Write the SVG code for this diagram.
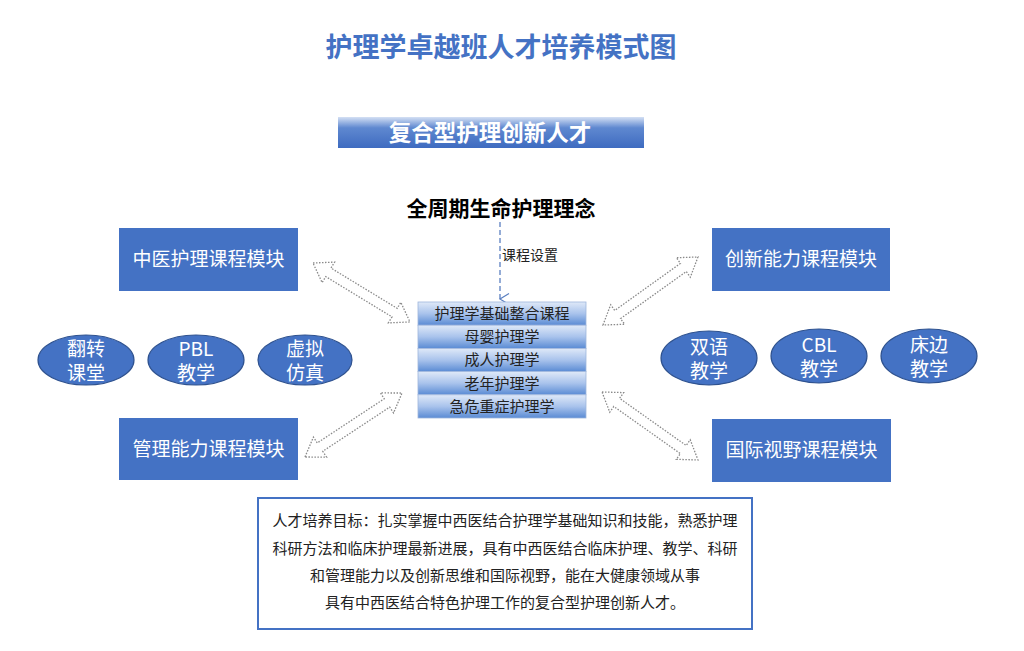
<svg xmlns="http://www.w3.org/2000/svg" width="1024" height="651" viewBox="0 0 1024 651">
<defs>
<linearGradient id="banner" x1="0" y1="0" x2="0" y2="1">
<stop offset="0" stop-color="#d4e0f4"/>
<stop offset="0.35" stop-color="#5f88d0"/>
<stop offset="1" stop-color="#3e6bc0"/>
</linearGradient>
<linearGradient id="row" x1="0" y1="0" x2="0" y2="1">
<stop offset="0" stop-color="#dfe9f8"/>
<stop offset="0.5" stop-color="#a9c3ec"/>
<stop offset="1" stop-color="#5a8bd4"/>
</linearGradient>
<marker id="chev" viewBox="0 0 14 14" refX="7" refY="12" markerWidth="14" markerHeight="14" markerUnits="userSpaceOnUse" orient="auto">
<path d="M1.5,3 L7,12 L12.5,3" fill="none" stroke="#5a7fc0" stroke-width="1.2"/>
</marker>
</defs>
<style>
.t{font-family:"Noto Sans CJK SC","Noto Sans",sans-serif;text-anchor:middle}
.serif{font-family:"Liberation Serif","Noto Sans CJK SC",serif;text-anchor:middle}
.box{fill:#4472c4}
.boxt{fill:#ffffff;font-size:19px}
.ell{fill:#4472c4;stroke:#2f528f;stroke-width:1.2}
.ellt{fill:#ffffff;font-size:19px}
.row{fill:url(#row);stroke:#9fb6dc;stroke-width:0.8}
.rowt{fill:#222;font-size:15px}
.arr{fill:#ffffff;stroke:#8a8a8a;stroke-width:1.3;stroke-dasharray:1.5 1.5}
.goal{font-size:15px;fill:#222}
</style>

<text class="t" x="501" y="57" font-size="27" font-weight="bold" fill="#4472c4">护理学卓越班人才培养模式图</text>

<g id="banner-node">
<rect x="338" y="117" width="306" height="31" fill="url(#banner)"/>
<text class="t" x="490" y="141" font-size="22.5" font-weight="bold" fill="#ffffff">复合型护理创新人才</text>
</g>

<g id="concept">
<text class="t" x="501" y="216" font-size="21" font-weight="bold" fill="#000">全周期生命护理理念</text>
</g>

<g id="connectors">
<line x1="500" y1="222" x2="500" y2="299" stroke="#5a7fc0" stroke-width="1.3" stroke-dasharray="5 3" marker-end="url(#chev)"/>
<text class="serif" x="530" y="260" font-size="14" fill="#222">课程设置</text>
<g transform="translate(313,263) rotate(31.3)">
<polygon class="arr" points="0,0 18,-12 18,-5 95.5,-5 95.5,-12 113.5,0 95.5,12 95.5,5 18,5 18,12"/>
</g>
<g transform="translate(305,457) rotate(-33.4)">
<polygon class="arr" points="0,0 18,-12 18,-5 98.2,-5 98.2,-12 116.2,0 98.2,12 98.2,5 18,5 18,12"/>
</g>
<g transform="translate(603,325) rotate(-35.6)">
<polygon class="arr" points="0,0 18,-12 18,-5 98.8,-5 98.8,-12 116.8,0 98.8,12 98.8,5 18,5 18,12"/>
</g>
<g transform="translate(602,392) rotate(35.3)">
<polygon class="arr" points="0,0 18,-12 18,-5 99.6,-5 99.6,-12 117.6,0 99.6,12 99.6,5 18,5 18,12"/>
</g>
</g>

<g id="course-stack">
<rect class="row" x="418" y="302" width="168" height="23.2"/>
<rect class="row" x="418" y="325.2" width="168" height="23.2"/>
<rect class="row" x="418" y="348.4" width="168" height="23.2"/>
<rect class="row" x="418" y="371.6" width="168" height="23.2"/>
<rect class="row" x="418" y="394.8" width="168" height="23.2"/>
<text class="serif rowt" x="502" y="319">护理学基础整合课程</text>
<text class="serif rowt" x="502" y="342.2">母婴护理学</text>
<text class="serif rowt" x="502" y="365.4">成人护理学</text>
<text class="serif rowt" x="502" y="388.6">老年护理学</text>
<text class="serif rowt" x="502" y="411.8">急危重症护理学</text>
</g>

<g id="tcm-module">
<rect class="box" x="119" y="228" width="179" height="63"/>
<text class="serif boxt" x="208.5" y="266">中医护理课程模块</text>
</g>
<g id="mgmt-module">
<rect class="box" x="119" y="418" width="179" height="62"/>
<text class="serif boxt" x="208.5" y="456">管理能力课程模块</text>
</g>
<g id="innov-module">
<rect class="box" x="712" y="228" width="178" height="63"/>
<text class="serif boxt" x="801" y="266">创新能力课程模块</text>
</g>
<g id="intl-module">
<rect class="box" x="712" y="419" width="179" height="63"/>
<text class="serif boxt" x="801.5" y="457">国际视野课程模块</text>
</g>

<g id="flip">
<ellipse class="ell" cx="86" cy="360" rx="48" ry="25"/>
<text class="t ellt" x="86" y="356">翻转<tspan x="86" dy="24">课堂</tspan></text>
</g>
<g id="pbl">
<ellipse class="ell" cx="196" cy="360" rx="48" ry="25"/>
<text class="t ellt" x="196" y="356">PBL<tspan x="196" dy="24">教学</tspan></text>
</g>
<g id="sim">
<ellipse class="ell" cx="305" cy="360" rx="47" ry="25"/>
<text class="t ellt" x="305" y="356">虚拟<tspan x="305" dy="24">仿真</tspan></text>
</g>
<g id="bilingual">
<ellipse class="ell" cx="709" cy="358" rx="48" ry="27"/>
<text class="t ellt" x="709" y="354">双语<tspan x="709" dy="24">教学</tspan></text>
</g>
<g id="cbl">
<ellipse class="ell" cx="819" cy="356" rx="48" ry="27"/>
<text class="t ellt" x="819" y="352">CBL<tspan x="819" dy="24">教学</tspan></text>
</g>
<g id="bedside">
<ellipse class="ell" cx="929" cy="356" rx="48" ry="27"/>
<text class="t ellt" x="929" y="352">床边<tspan x="929" dy="24">教学</tspan></text>
</g>

<g id="goal">
<rect x="258" y="498" width="494" height="131" fill="#ffffff" stroke="#4472c4" stroke-width="2"/>
<text class="serif goal" x="505" y="526">人才培养目标：扎实掌握中西医结合护理学基础知识和技能，熟悉护理</text>
<text class="serif goal" x="505" y="554">科研方法和临床护理最新进展，具有中西医结合临床护理、教学、科研</text>
<text class="serif goal" x="505" y="581">和管理能力以及创新思维和国际视野，能在大健康领域从事</text>
<text class="serif goal" x="505" y="608">具有中西医结合特色护理工作的复合型护理创新人才。</text>
</g>
</svg>
